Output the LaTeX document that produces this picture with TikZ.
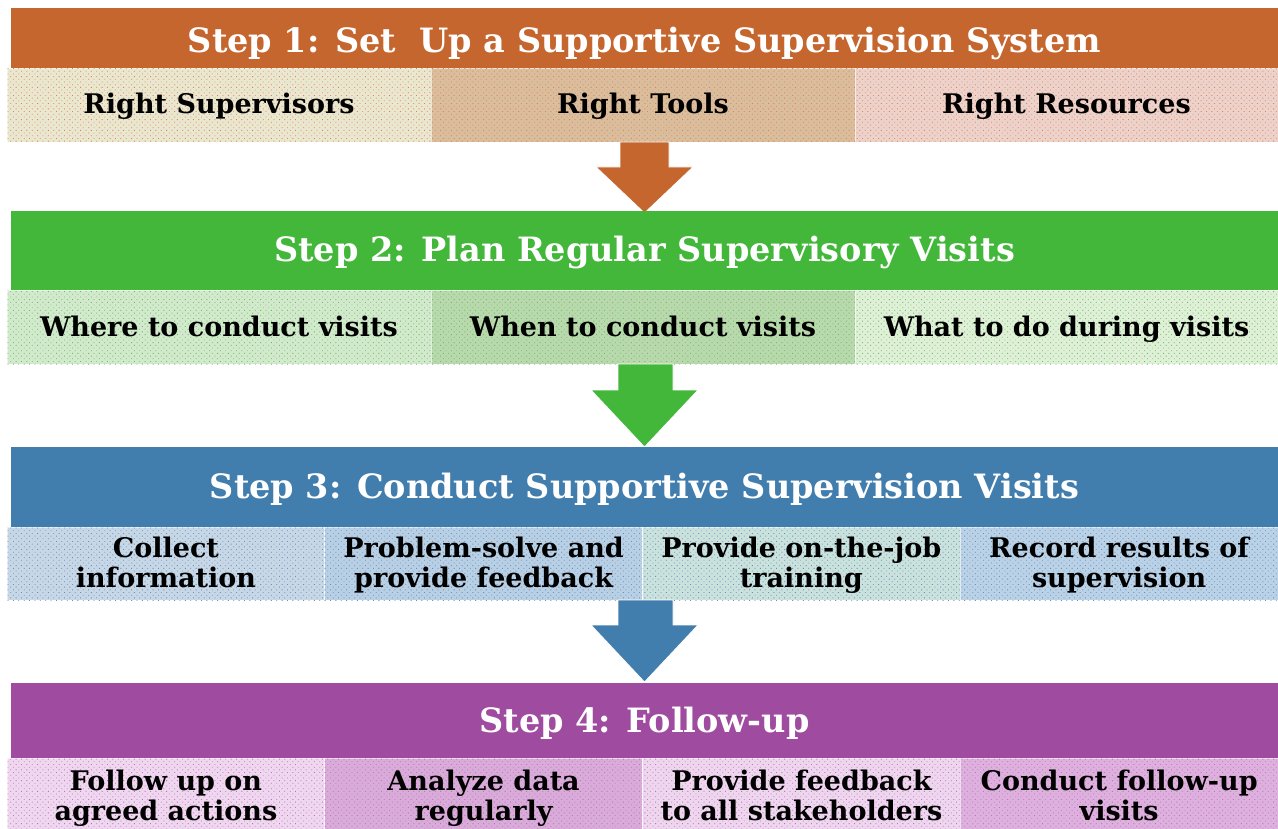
\documentclass[tikz,border=0pt]{standalone}
\usepackage{fontspec}
\setmainfont{DejaVu Serif}
\usetikzlibrary{patterns.meta}
\definecolor{hOr}{HTML}{C5662F}
\definecolor{hGr}{HTML}{42B73A}
\definecolor{hBl}{HTML}{417DAD}
\definecolor{hPu}{HTML}{9F4B9F}
\definecolor{dOr}{HTML}{DC8250}
\definecolor{dGr}{HTML}{62C456}
\definecolor{dBl}{HTML}{5E92C4}
\definecolor{dPu}{HTML}{BD72BD}
\definecolor{aA}{HTML}{EAE7D0}
\definecolor{aB}{HTML}{D9BD9D}
\definecolor{aC}{HTML}{ECD2CB}
\definecolor{bA}{HTML}{D3E9CD}
\definecolor{bB}{HTML}{BAD8AD}
\definecolor{bC}{HTML}{E0EFD8}
\definecolor{cA}{HTML}{C8D7E5}
\definecolor{cB}{HTML}{B9CFE3}
\definecolor{cC}{HTML}{CAE1DC}
\definecolor{cD}{HTML}{BBD1E5}
\definecolor{eA}{HTML}{EFD7EF}
\definecolor{eB}{HTML}{D9ABD9}
\definecolor{eC}{HTML}{EED6EE}
\definecolor{eD}{HTML}{DDB0DD}
\newcommand\dn[2]{\raisebox{-#1}[\height][\depth]{#2}}
\newcommand\twoline[3]{\dn{#1}{\begin{tabular}{@{}c@{}}#2\\#3\end{tabular}}}
\tikzset{
  hdr/.style={fill=#1, text=white, minimum width=1267pt, inner sep=0pt,
    font=\bfseries\fontsize{33.5}{37}\selectfont},
  cell/.style 2 args={fill=#1, draw=white, draw opacity=0.6, line width=0.8pt,
    postaction={pattern={Dots[radius=0.6pt,distance=3.8pt,angle=45]}, pattern color=#2},
    inner sep=0pt, align=center, text=black,
    font=\bfseries\fontsize{27}{29}\selectfont},
  one/.style={text height=26pt, text depth=8pt},
  arr/.style={fill=#1, draw=white, line width=0.8pt}
}
\begin{document}
\begin{tikzpicture}[x=1pt,y=-1pt]
\useasboundingbox (0,0) rectangle (1278,829);
% Step 1
\node[hdr=hOr, minimum height=60pt] (h1) at (644.5,38) {\dn{5pt}{Step 1: Set\ \ Up a Supportive Supervision System}};
\node[cell={aA}{dOr}, one, minimum width=424pt, minimum height=74pt] (r1a) at (219,105) {Right Supervisors};
\node[cell={aB}{dOr}, one, minimum width=424pt, minimum height=74pt] (r1b) at (643,105) {Right Tools};
\node[cell={aC}{dOr}, one, minimum width=423pt, minimum height=74pt] (r1c) at (1066.5,105) {Right Resources};
\fill[arr=hOr] (620,142) -- (669,142) -- (669,167) -- (693,167) -- (644.5,213) -- (596,167) -- (620,167) -- cycle;
% Step 2
\node[hdr=hGr, minimum height=79pt] (h2) at (644.5,250.5) {\dn{2pt}{Step 2: Plan Regular Supervisory Visits}};
\node[cell={bA}{dGr}, one, minimum width=424pt, minimum height=74pt] (r2a) at (219,327) {Where to conduct visits};
\node[cell={bB}{dGr}, one, minimum width=424pt, minimum height=74pt] (r2b) at (643,327) {When to conduct visits};
\node[cell={bC}{dGr}, one, minimum width=423pt, minimum height=74pt] (r2c) at (1066.5,327) {What to do during visits};
\fill[arr=hGr] (618,364) -- (673,364) -- (673,390) -- (698,390) -- (644.5,447) -- (591,390) -- (618,390) -- cycle;
% Step 3
\node[hdr=hBl, minimum height=80pt] (h3) at (644.5,487) {\dn{2pt}{Step 3: Conduct Supportive Supervision Visits}};
\node[cell={cA}{dBl}, minimum width=317.75pt, minimum height=73pt] (r3a) at (165.9,563.5) {\twoline{3pt}{Collect}{information}};
\node[cell={cB}{dBl}, minimum width=317.75pt, minimum height=73pt] (r3b) at (483.6,563.5) {\twoline{3pt}{Problem-solve and}{provide feedback}};
\node[cell={cC}{dBl}, minimum width=317.75pt, minimum height=73pt] (r3c) at (801.4,563.5) {\twoline{3pt}{Provide on-the-job}{training}};
\node[cell={cD}{dBl}, minimum width=317.75pt, minimum height=73pt] (r3d) at (1119.1,563.5) {\twoline{3pt}{Record results of}{supervision}};
\fill[arr=hBl] (618,600) -- (673,600) -- (673,625) -- (698,625) -- (644.5,682) -- (591,625) -- (618,625) -- cycle;
% Step 4
\node[hdr=hPu, minimum height=75pt] (h4) at (644.5,720.5) {\dn{3pt}{Step 4: Follow-up}};
\node[cell={eA}{dPu}, minimum width=317.75pt, minimum height=71pt] (r4a) at (165.9,793.5) {\twoline{6pt}{Follow up on}{agreed actions}};
\node[cell={eB}{dPu}, minimum width=317.75pt, minimum height=71pt] (r4b) at (483.6,793.5) {\twoline{6pt}{Analyze data}{regularly}};
\node[cell={eC}{dPu}, minimum width=317.75pt, minimum height=71pt] (r4c) at (801.4,793.5) {\twoline{6pt}{Provide feedback}{to all stakeholders}};
\node[cell={eD}{dPu}, minimum width=317.75pt, minimum height=71pt] (r4d) at (1119.1,793.5) {\twoline{6pt}{Conduct follow-up}{visits}};
\end{tikzpicture}
\end{document}
